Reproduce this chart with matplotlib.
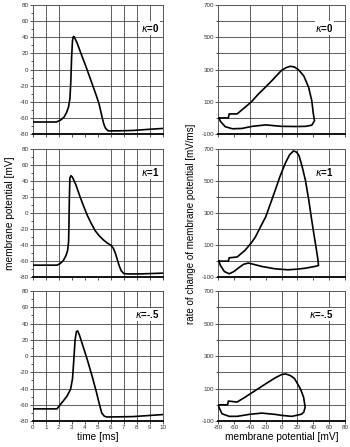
from matplotlib import pyplot as plt
from matplotlib.ticker import MultipleLocator, FixedLocator

plt.rcParams['font.family'] = ['Liberation Sans', 'DejaVu Sans']
plt.rcParams['axes.unicode_minus'] = False

# membrane potential traces, V(t)
t_k0 = [0, 1.8, 2.1, 2.4, 2.6, 2.75, 2.85, 2.92, 2.98, 3.05, 3.12, 3.2, 3.4, 3.7,
        4.1, 4.5, 4.9, 5.1, 5.3, 5.45, 5.6, 5.8, 6.5, 7.7, 9, 10]
v_k0 = [-65, -65, -63, -59, -53, -46, -36, -15, 15, 36, 41, 40, 33, 20,
        3, -15, -33, -43, -57, -67, -73, -76, -76, -75.5, -74, -73]

t_k1 = [0, 1.85, 2.1, 2.35, 2.55, 2.68, 2.75, 2.78, 2.81, 2.85, 2.93, 3.05, 3.3,
        3.6, 3.9, 4.2, 4.5, 4.8, 5.1, 5.4, 5.7, 6.0, 6.2, 6.35, 6.5, 6.65, 6.8,
        7.0, 7.3, 8.2, 10]
v_k1 = [-65, -65, -63, -59, -53, -46, -35, -10, 20, 44, 47, 45, 36,
        22, 9, -3, -13, -22, -28, -33, -37, -40, -44, -50, -58, -66, -72,
        -75.5, -76, -76, -75]

t_km = [0, 1.85, 2.2, 2.6, 2.9, 3.05, 3.15, 3.25, 3.35, 3.45, 3.6, 3.9, 4.2,
        4.6, 4.9, 5.1, 5.3, 5.5, 5.7, 7.7, 10]
v_km = [-65, -65, -58, -50, -41, -28, -5, 20, 30, 31, 25, 10, -5,
        -27, -45, -58, -70, -74, -75, -74.5, -72]

# phase plots, dV/dt against V
pv_k0 = [-79, -67, -66, -56, -46, -38, -29, -20, -12, 0, 6, 11, 16, 21, 28, 34,
         38, 40, 41.5, 38, 30, 20, 0, -20, -37, -50, -62, -71, -77, -79]
pd_k0 = [0, 0, 25, 25, 66, 100, 149, 192, 232, 295, 312, 320, 316, 300, 260, 191,
         108, 25, -17, -45, -52, -53, -52, -43, -52, -65, -67, -54, -21, 0]

pv_k1 = [-79, -67, -66, -56, -46, -38, -33, -26, -20, -14, -8, -2, 4.6, 10, 15,
         19, 22, 26, 30, 34, 38, 41, 44, 46, 46.5, 42, 30, 20, 8, -8, -25, -35,
         -42, -48, -55, -60, -66, -72, -77, -79]
pd_k1 = [0, 0, 21, 26, 68, 115, 151, 220, 277, 360, 444, 530, 612, 665, 690,
         682, 660, 590, 507, 390, 256, 160, 68, 0, -27, -33, -44, -50, -54, -48,
         -33, -20, -12, -20, -45, -65, -79, -65, -27, 0]

pv_km = [-79, -68, -67, -56, -46, -33, -20, -8, 0, 5, 11, 16, 19, 24, 27.7,
         29.7, 28, 25, 13, 0, -8, -25, -41, -56, -66, -75, -79, -79]
pd_km = [0, 0, 23, 17, 47, 88, 129, 166, 186, 190, 180, 163, 139, 95, 47,
         -14, -45, -58, -71, -65, -59, -51, -59, -71, -71, -55, -14, 0]

kappa_labels = ['0', '1', '-.5']

time_series = [(t_k0, v_k0), (t_k1, v_k1), (t_km, v_km)]
phase_series = [(pv_k0, pd_k0), (pv_k1, pd_k1), (pv_km, pd_km)]

fig = plt.figure(figsize=(3.5, 4.47), dpi=100)

# panel rows (bottom, height) in figure fractions
rows = [(0.700, 0.289), (0.380, 0.286), (0.058, 0.291)]


def style(ax, bottom_row):
    for side in ['left', 'right', 'top']:
        ax.spines[side].set_color('#555555')
        ax.spines[side].set_linewidth(0.7)
    ax.spines['bottom'].set_color('black')
    ax.spines['bottom'].set_linewidth(1.3)
    ax.tick_params(which='both', direction='out', length=2, width=0.6,
                   labelsize=4.5, colors='#333333', pad=1)
    ax.tick_params(which='minor', length=1.5)
    if not bottom_row:
        ax.tick_params(labelbottom=False)


for i, (b, h) in enumerate(rows):
    last = i == len(rows) - 1

    # left column: V(t)
    ax = fig.add_axes([0.094, b, 0.371, h])
    t, v = time_series[i]
    ax.plot(t, v, color='black', linewidth=1.2, zorder=3)
    ax.set_xlim(0, 10)
    ax.set_ylim(-80, 80)
    ax.xaxis.set_major_locator(MultipleLocator(1))
    ax.yaxis.set_major_locator(MultipleLocator(20))
    ax.yaxis.set_minor_locator(MultipleLocator(10))
    for x in [1, 2, 6, 7, 8, 9]:
        ax.axvline(x, color='#444444', linewidth=0.6, zorder=1)
    for y in range(-60, 61, 20):
        ax.axhline(y, color='#444444', linewidth=0.6, zorder=1)
    style(ax, last)
    ax.text(0.975, 0.82, r'$\kappa$=' + kappa_labels[i], fontweight='bold',
            transform=ax.transAxes, ha='right', va='center', fontsize=7,
            bbox=dict(facecolor='white', edgecolor='none', pad=0.5))

    # right column: phase plot
    ax2 = fig.add_axes([0.623, b, 0.363, h])
    pv, pd = phase_series[i]
    ax2.plot(pv, pd, color='black', linewidth=1.2, zorder=3)
    ax2.set_xlim(-80, 80)
    ax2.set_ylim(-100, 700)
    ax2.xaxis.set_major_locator(MultipleLocator(20))
    ax2.yaxis.set_major_locator(FixedLocator([-100, 100, 300, 500, 700]))
    ax2.yaxis.set_minor_locator(FixedLocator([0, 200, 400, 600]))
    for x in [-40, 0, 20, 60]:
        ax2.axvline(x, color='#444444', linewidth=0.6, zorder=1)
    for y in range(0, 601, 100):
        ax2.axhline(y, color='#444444', linewidth=0.6, zorder=1)
    style(ax2, last)
    ax2.text(0.91, 0.82, r'$\kappa$=' + kappa_labels[i], fontweight='bold',
             transform=ax2.transAxes, ha='right', va='center', fontsize=7,
             bbox=dict(facecolor='white', edgecolor='none', pad=0.5))

fig.text(0.028, 0.523, 'membrane potential [mV]', rotation=90,
         ha='center', va='center', fontsize=7.3)
fig.text(0.545, 0.50, 'rate of change of membrane potential [mV/ms]', rotation=90,
         ha='center', va='center', fontsize=7)
fig.text(0.28, 0.022, 'time [ms]', ha='center', va='center', fontsize=7.3)
fig.text(0.805, 0.022, 'membrane potential [mV]', ha='center', va='center', fontsize=7.3)

fig.savefig('out.png', dpi=100)
